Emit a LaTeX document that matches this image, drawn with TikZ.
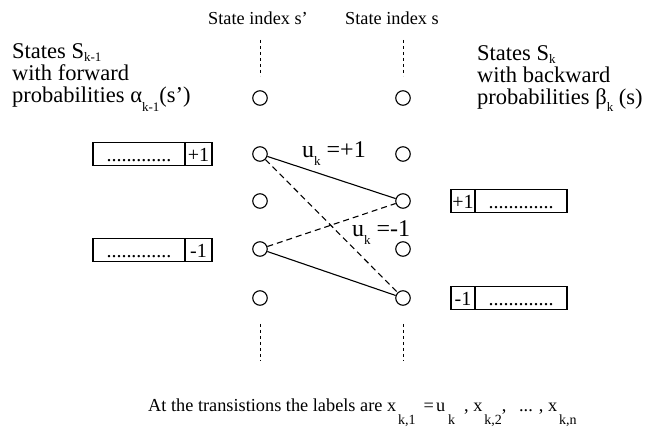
\documentclass[tikz,border=0pt]{standalone}
\usepackage{fontspec}
\setmainfont{Liberation Serif}
\newcommand\lowsub[2]{\raisebox{-#1}{\fontsize{13}{13}\selectfont #2}}
\newcommand\csub[1]{\raisebox{-13pt}{\fontsize{14}{14}\selectfont #1}}
\begin{document}
\begin{tikzpicture}[x=1pt,y=-1pt,
 st/.style={circle,draw,line width=1.1pt,minimum size=14.5pt,inner sep=0pt},
 conn/.style={line width=1.1pt},
 dconn/.style={line width=1.1pt,dash pattern=on 6pt off 4pt},
 vdash/.style={line width=1pt,dash pattern=on 3pt off 3pt},
 bx/.style={draw,line width=1.1pt,minimum height=23pt,inner xsep=0pt,inner ysep=2pt,text height=17pt,text depth=1pt,font=\fontsize{20}{20}\selectfont},
 big/.style={font=\fontsize{22.5}{22}\selectfont,anchor=base west,inner sep=0pt},
 small/.style={font=\fontsize{18.3}{18}\selectfont,anchor=base west,inner sep=0pt},
 lab/.style={font=\fontsize{24}{24}\selectfont,anchor=base west,inner sep=0pt}]
\useasboundingbox (0,0) rectangle (657,430);
% headings
\node[small] (hs1) at (208,25) {State index s'};
\node[small] (hs2) at (345,25) {State index s};
% left description
\node[big] (l1) at (12,59) {States S\lowsub{3pt}{k-1}};
\node[big] (l2) at (12,81) {with forward};
\node[big] (l3) at (12,103) {probabilities α\lowsub{9pt}{k-1}(s')};
% right description
\node[big] (r1) at (477,61) {States S\lowsub{3pt}{k}};
\node[big] (r2) at (477,83) {with backward};
\node[big] (r3) at (477,105) {probabilities β\lowsub{7pt}{k} (s)};
% states
\foreach \i/\yy in {1/98,2/154,3/201,4/249,5/298}{
  \node[st] (a\i) at (260,\yy) {};
  \node[st] (b\i) at (403,\yy) {};
}
% vertical dashed continuation
\coordinate (at1) at (260,40); \coordinate (at2) at (260,76);
\coordinate (bt1) at (403,40); \coordinate (bt2) at (403,76);
\coordinate (ab1) at (260,324); \coordinate (ab2) at (260,361);
\coordinate (bb1) at (403,324); \coordinate (bb2) at (403,361);
\draw[vdash] (at1) -- (at2);
\draw[vdash] (bt1) -- (bt2);
\draw[vdash] (ab1) -- (ab2);
\draw[vdash] (bb1) -- (bb2);
% transitions
\draw[conn] (a2) -- (b3);
\draw[conn] (a4) -- (b5);
\draw[dconn] (a2) -- (b5);
\draw[dconn] (a4) -- (b3);
% transition labels
\node[lab] (up) at (302,158) {u\lowsub{8pt}{k} =+1};
\node[lab] (um) at (352,237) {u\lowsub{8pt}{k} =-1};
% left boxes
\node[bx,minimum width=92pt] (lp) at (139,154) {.............};
\node[bx,minimum width=27pt] (lpc) at (198.5,154) {+1};
\node[bx,minimum width=92pt] (lm) at (139,250) {.............};
\node[bx,minimum width=27pt] (lmc) at (198.5,250) {-1};
% right boxes
\node[bx,minimum width=24pt] (rpc) at (463,201) {+1};
\node[bx,minimum width=92pt] (rp) at (521,201) {.............};
\node[bx,minimum width=24pt] (rmc) at (463,298) {-1};
\node[bx,minimum width=92pt] (rm) at (521,298) {.............};
% bottom caption
\node[small] (bot) at (148,412) {At the transistions the labels are x\hspace{2pt}\csub{k,1}\hspace{8pt}=\hspace{2pt}u\hspace{3pt}\csub{k}\hspace{9pt}, x\hspace{2pt}\csub{k,2}, \hspace{8pt}... , x\hspace{2pt}\csub{k,n}};
\end{tikzpicture}
\end{document}
